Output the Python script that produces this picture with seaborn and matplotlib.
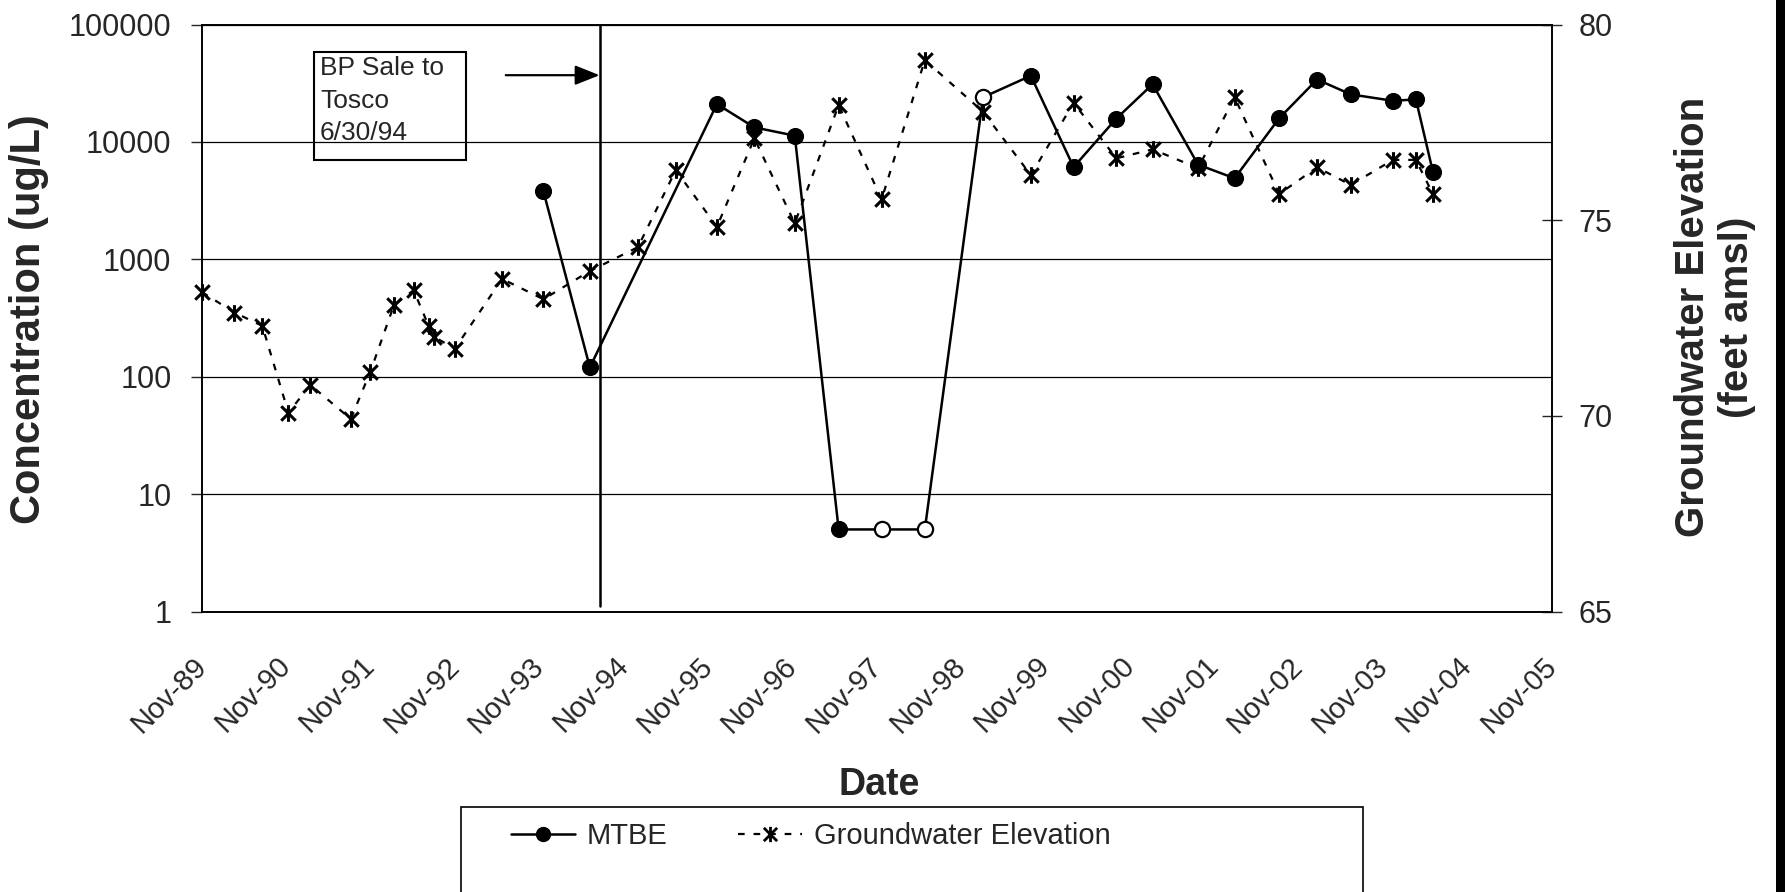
import pandas as pd
import numpy as np
import matplotlib
matplotlib.use('Agg')
import matplotlib.pyplot as plt
from matplotlib.path import Path
from matplotlib.patches import Rectangle
from matplotlib.lines import Line2D
from matplotlib.ticker import FixedLocator, NullLocator
from matplotlib.transforms import ScaledTranslation
import seaborn as sns


# groundwater elevation (feet amsl)
gw_dates = ['1989-11-01', '1990-03-21', '1990-07-20', '1990-11-10', '1991-02-13', '1991-08-07',
            '1991-10-31', '1992-02-10', '1992-05-05', '1992-07-09', '1992-07-31', '1992-10-31',
            '1993-05-23', '1993-11-18', '1994-06-07', '1995-01-01', '1995-06-14', '1995-12-09',
            '1996-05-19', '1996-11-10', '1997-05-19', '1997-11-21', '1998-05-27', '1999-02-03',
            '1999-08-29', '2000-03-01', '2000-09-02', '2001-02-06', '2001-08-22', '2002-01-27',
            '2002-08-08', '2003-01-19', '2003-06-14', '2003-12-13', '2004-03-22', '2004-06-04']
gw_elev = [73.16, 72.64, 72.30, 70.08, 70.79, 69.92,
           71.13, 72.83, 73.21, 72.30, 72.02, 71.72,
           73.50, 72.98, 73.70, 74.31, 76.28, 74.83,
           77.09, 74.92, 77.94, 75.53, 79.09, 77.77,
           76.15, 78.00, 76.58, 76.81, 76.33, 78.14,
           75.67, 76.35, 75.90, 76.54, 76.54, 75.66]

# MTBE concentration (ug/L), open = hollow marker
mtbe_dates = ['1993-11-18', '1994-06-07', '1995-12-09', '1996-05-19', '1996-11-10', '1997-05-19',
              '1997-11-21', '1998-05-27', '1999-02-03', '1999-08-29', '2000-03-01', '2000-09-02',
              '2001-02-06', '2001-08-22', '2002-01-27', '2002-08-08', '2003-01-19', '2003-06-14',
              '2003-12-13', '2004-03-22', '2004-06-04']
mtbe_conc = [3800, 120, 21000, 13300, 11300, 5,
             5, 5, 24000, 36600, 6100, 15800,
             31000, 6400, 4900, 15900, 34000, 25400,
             22400, 23000, 5500]
mtbe_open = [False, False, False, False, False, False,
             True, True, True, False, False, False,
             False, False, False, False, False, False,
             False, False, False]

bp_line_date = '1994-07-19'
bp_note = 'BP Sale to\nTosco\n6/30/94'
conc_ticks = [1, 10, 100, 1000, 10000, 100000]
elev_ticks = [65, 70, 75, 80]
year_ticks = [pd.Timestamp(f'{y}-11-01') for y in range(1989, 2006)]


sns.set_style('white')
plt.rcParams['font.family'] = ['Liberation Sans', 'DejaVu Sans']

mtbe = pd.DataFrame({'date': pd.to_datetime(mtbe_dates), 'conc': mtbe_conc, 'open': mtbe_open})
gw = pd.DataFrame({'date': pd.to_datetime(gw_dates), 'elev': gw_elev})

# asterisk marker like the Excel star
star = Path([(-1, -1), (1, 1), (-1, 1), (1, -1), (0, -1.15), (0, 1.15)],
            [Path.MOVETO, Path.LINETO, Path.MOVETO, Path.LINETO, Path.MOVETO, Path.LINETO])

W, H = 1785, 892
fig = plt.figure(figsize=(W / 100, H / 100), dpi=100)
ax = fig.add_axes([202 / W, 1 - 611.5 / H, (1552 - 202) / W, (611.5 - 24.5) / H])
ax.set_yscale('log')

sns.lineplot(data=mtbe, x='date', y='conc', ax=ax, color='black', lw=1.8, zorder=3, clip_on=False)
sns.scatterplot(data=mtbe[~mtbe['open']], x='date', y='conc', ax=ax, marker='o', s=130,
                color='black', edgecolor='black', zorder=4, clip_on=False)
sns.scatterplot(data=mtbe[mtbe['open']], x='date', y='conc', ax=ax, marker='o', s=120,
                facecolor='white', edgecolor='black', linewidth=1.6, zorder=4, clip_on=False)

ax.set_ylim(1, 100000)
ax.set_xlim(year_ticks[0], year_ticks[-1])
ax.yaxis.set_major_locator(FixedLocator(conc_ticks))
ax.yaxis.set_minor_locator(NullLocator())
ax.set_yticklabels([str(t) for t in conc_ticks])
ax.set_xticks(year_ticks)
ax.set_xticklabels([d.strftime('%b-%y') for d in year_ticks], rotation=45, ha='right',
                   va='center', rotation_mode='anchor')
shift = ScaledTranslation(-0.12, 0, fig.dpi_scale_trans)
for lab in ax.get_xticklabels():
    lab.set_transform(lab.get_transform() + shift)
ax.yaxis.grid(True, color='black', lw=0.9)
ax.xaxis.grid(False)
ax.tick_params(axis='y', direction='out', length=8, width=1, labelsize=22, pad=14)
ax.tick_params(axis='x', direction='out', length=8, width=1, labelsize=21, pad=28)
ax.set_xlabel('')
ax.set_ylabel('')
for s in ax.spines.values():
    s.set_color('black')
    s.set_linewidth(1.2)

# sale line + note
bp = pd.Timestamp(bp_line_date)
ax.axvline(bp, ymin=0.01, ymax=1, color='black', lw=1.8, zorder=2)
ax.annotate('', xy=(bp, 37000), xytext=(pd.Timestamp('1993-06-08'), 37000),
            arrowprops=dict(arrowstyle='-|>,head_length=0.75,head_width=0.3', color='black',
                            lw=1.6, shrinkA=0, shrinkB=0, mutation_scale=20))
ax.add_patch(Rectangle((0.083, 0.769), 0.1126, 0.184, transform=ax.transAxes, fill=False,
                       ec='black', lw=1.5, zorder=5))
ax.text(0.0874, 0.946, bp_note, transform=ax.transAxes, fontsize=19, ha='left', va='top',
        linespacing=1.45)

ax2 = ax.twinx()
sns.lineplot(data=gw, x='date', y='elev', ax=ax2, color='black', lw=1.6, linestyle=(0, (3, 4)),
             marker=star, markersize=12, markeredgewidth=2.2, markeredgecolor='black',
             markerfacecolor='none', clip_on=False)
ax2.set_ylim(65, 80)
ax2.set_yticks(elev_ticks)
ax2.set_ylabel('')
ax2.tick_params(axis='y', direction='inout', length=14, width=1, labelsize=22, pad=12)
ax2.grid(False)
for s in ax2.spines.values():
    s.set_color('black')
    s.set_linewidth(1.2)

fig.text(29 / W, 1 - 319 / H, 'Concentration (ug/L)', rotation=90, ha='center', va='center',
         fontsize=30, fontweight='bold')
fig.text(1715 / W, 1 - 317 / H, 'Groundwater Elevation\n(feet amsl)', rotation=90, ha='center',
         va='center', multialignment='center', fontsize=29, fontweight='bold')
fig.text(879 / W, 1 - 785 / H, 'Date', ha='center', va='center', fontsize=27, fontweight='bold')

# legend box running off the bottom
fig.patches.append(Rectangle((461 / W, -0.05), (1363 - 461) / W, (892 - 807) / H + 0.05,
                             transform=fig.transFigure, fill=False, ec='black', lw=1.2))
h_mtbe = Line2D([], [], color='black', lw=1.8, marker='o', markersize=10)
h_gw = Line2D([], [], color='black', lw=1.6, linestyle=(0, (3, 4)), marker=star, markersize=11,
              markeredgewidth=2.0, markerfacecolor='none')
fig.legend([h_mtbe, h_gw], ['MTBE', 'Groundwater Elevation'], ncol=2, frameon=False,
           loc='center left', bbox_to_anchor=(511 / W, 1 - 836 / H), fontsize=21,
           handlelength=2.2, handletextpad=0.4, columnspacing=2.4, borderpad=0, borderaxespad=0)

# dark scan edge on the right
fig.patches.append(Rectangle((1776 / W, 0), 9 / W, 1, transform=fig.transFigure,
                             fc='black', ec='none'))

fig.savefig('out.png', dpi=100)
